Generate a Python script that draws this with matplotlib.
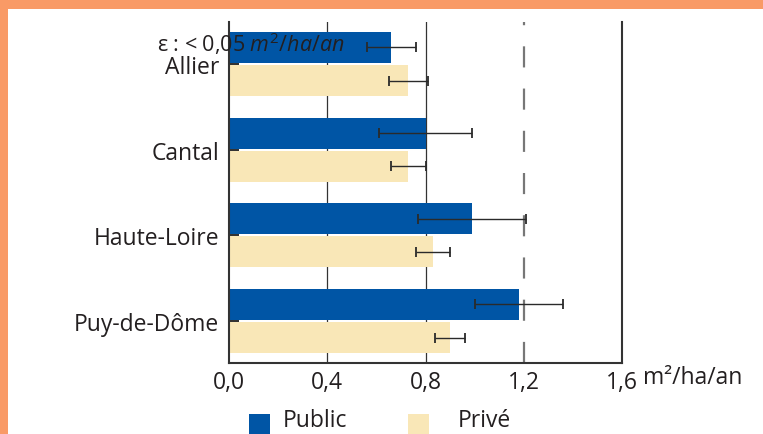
import matplotlib
matplotlib.use("Agg")
import matplotlib.pyplot as plt
from matplotlib.patches import Rectangle
import numpy as np

categories = ["Allier", "Cantal", "Haute-Loire", "Puy-de-Dôme"]
public_vals = [0.66, 0.80, 0.99, 1.18]
public_err = [0.10, 0.19, 0.22, 0.18]
prive_vals = [0.73, 0.73, 0.83, 0.90]
prive_err = [0.08, 0.07, 0.07, 0.06]
xticks = [0.0, 0.4, 0.8, 1.2, 1.6]
xtick_labels = ["0,0", "0,4", "0,8", "1,2", "1,6"]
unit_label = "m²/ha/an"
note_label = "ε : < 0,05 $m^{2}/ha/an$"
legend_labels = ["Public", "Privé"]

BLUE = "#0055A5"
YELLOW = "#F9E7B7"
ORANGE = "#F99A66"
TXT = "#231F20"

plt.rcParams["font.family"] = ["Open Sans", "DejaVu Sans"]
plt.rcParams["mathtext.fontset"] = "custom"
plt.rcParams["mathtext.it"] = "Open Sans:italic"
plt.rcParams["mathtext.rm"] = "Open Sans"

FS = 16.5

W, H = 763, 435
fig = plt.figure(figsize=(W / 100, H / 100), dpi=100)
fig.patch.set_facecolor("white")

# orange frame
fig.patches.append(Rectangle((0, 1 - 10 / H), 1, 10 / H, transform=fig.transFigure,
                             facecolor=ORANGE, edgecolor="none", zorder=0))
fig.patches.append(Rectangle((0, 0), 8 / W, 1, transform=fig.transFigure,
                             facecolor=ORANGE, edgecolor="none", zorder=0))

left, right, top, bottom = 229, 622, 23, 364
ax = fig.add_axes([left / W, 1 - bottom / H, (right - left) / W, (bottom - top) / H])

y = np.arange(len(categories))
off = 0.193
h = 0.362
ax.barh(y - off, public_vals, height=h, color=BLUE, zorder=2)
ax.barh(y + off, prive_vals, height=h, color=YELLOW, zorder=2)
ax.errorbar(public_vals, y - off, xerr=public_err, fmt="none", ecolor="#2a2a2a",
            elinewidth=1.0, capsize=3.6, capthick=1.3, zorder=4)
ax.errorbar(prive_vals, y + off, xerr=prive_err, fmt="none", ecolor="#2a2a2a",
            elinewidth=1.0, capsize=3.6, capthick=1.3, zorder=4)

for xv in xticks[1:3]:
    ax.axvline(xv, color="#333333", lw=0.9, zorder=1)
ax.axvline(xticks[3], color="#777777", lw=1.6, dashes=(9.5, 9.5), zorder=3)

ax.set_xlim(0, 1.6)
ax.set_ylim(3.49, -0.49)
ax.set_xticks(xticks)
ax.set_xticklabels(xtick_labels, fontsize=FS, color=TXT)
ax.tick_params(axis="x", length=0, pad=5)
ax.set_yticks(y)
ax.set_yticklabels(categories, fontsize=FS, color=TXT)
ax.tick_params(axis="y", direction="in", length=7, width=1.5, color="#333333", pad=7)
for t in ax.get_yticklines():
    t.set_zorder(5)

ax.spines["top"].set_visible(False)
for s in ["left", "bottom", "right"]:
    ax.spines[s].set_linewidth(1.5)
    ax.spines[s].set_color("#333333")
    ax.spines[s].set_zorder(5)

fig.text(643 / W, 1 - 378 / H, unit_label, fontsize=FS, color=TXT, va="center", ha="left")
fig.text(157 / W, 1 - 44 / H, note_label, fontsize=15.5, color=TXT, va="center", ha="left",
         zorder=10)

# legend
sq_w, sq_h = 21, 20
for xs, xt, col, lab in [(249, 283, BLUE, legend_labels[0]), (408, 458, YELLOW, legend_labels[1])]:
    fig.patches.append(Rectangle((xs / W, 0), sq_w / W, sq_h / H, transform=fig.transFigure,
                                 facecolor=col, edgecolor="none"))
    fig.text(xt / W, 1 - 421 / H, lab, fontsize=FS, color=TXT, va="center", ha="left")

fig.savefig("out.png", dpi=100)
